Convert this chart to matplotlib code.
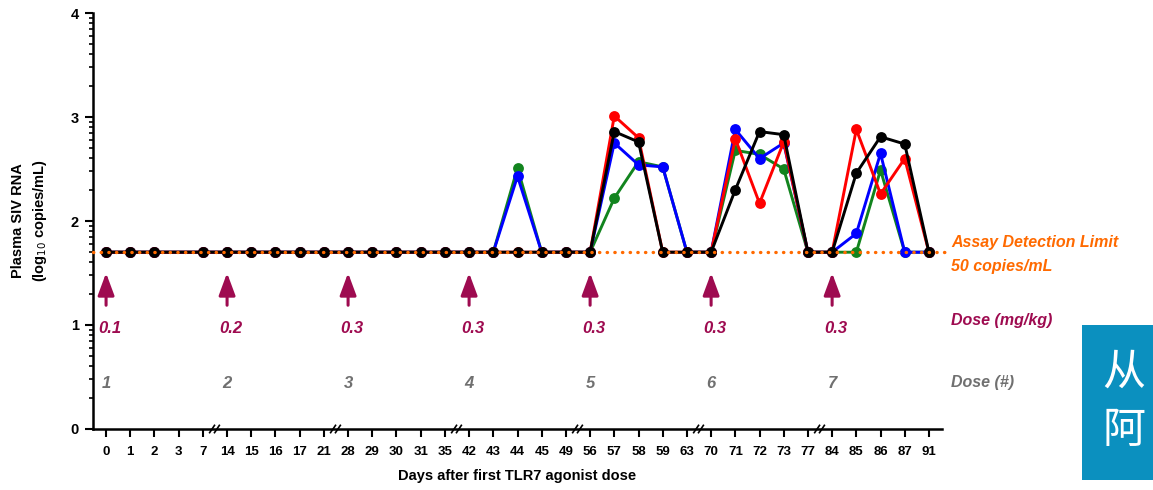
import matplotlib
matplotlib.use("Agg")
import matplotlib.pyplot as plt
from matplotlib.patches import Rectangle
import numpy as np

plt.rcParams['font.family'] = ['Liberation Sans', 'DejaVu Sans']

# ---------------- data ----------------
day_categories = [0, 1, 2, 3, 7, 14, 15, 16, 17, 21, 28, 29, 30, 31, 35, 42, 43, 44, 45, 49,
                  56, 57, 58, 59, 63, 70, 71, 72, 73, 77, 84, 85, 86, 87, 91]
sample_days = [0, 1, 2, 7, 14, 15, 16, 17, 21, 28, 29, 30, 31, 35, 42, 43, 44, 45, 49,
               56, 57, 58, 59, 63, 70, 71, 72, 73, 77, 84, 85, 86, 87, 91]

green_vals = [1.70, 1.70, 1.70, 1.70, 1.70, 1.70, 1.70, 1.70, 1.70, 1.70, 1.70, 1.70, 1.70, 1.70,
              1.70, 1.70, 2.51, 1.70, 1.70, 1.70, 2.22, 2.57, 2.52, 1.70, 1.70, 2.68, 2.64, 2.50,
              1.70, 1.70, 1.70, 2.49, 1.70, 1.70]
blue_vals = [1.70, 1.70, 1.70, 1.70, 1.70, 1.70, 1.70, 1.70, 1.70, 1.70, 1.70, 1.70, 1.70, 1.70,
             1.70, 1.70, 2.43, 1.70, 1.70, 1.70, 2.75, 2.54, 2.52, 1.70, 1.70, 2.88, 2.60, 2.75,
             1.70, 1.70, 1.88, 2.65, 1.70, 1.70]
red_vals = [1.70, 1.70, 1.70, 1.70, 1.70, 1.70, 1.70, 1.70, 1.70, 1.70, 1.70, 1.70, 1.70, 1.70,
            1.70, 1.70, 1.70, 1.70, 1.70, 1.70, 3.01, 2.80, 1.70, 1.70, 1.70, 2.79, 2.17, 2.76,
            1.70, 1.70, 2.88, 2.26, 2.60, 1.70]
black_vals = [1.70, 1.70, 1.70, 1.70, 1.70, 1.70, 1.70, 1.70, 1.70, 1.70, 1.70, 1.70, 1.70, 1.70,
              1.70, 1.70, 1.70, 1.70, 1.70, 1.70, 2.86, 2.76, 1.70, 1.70, 1.70, 2.30, 2.86, 2.83,
              1.70, 1.70, 2.46, 2.81, 2.74, 1.70]

detection_limit = 1.70  # log10(50 copies/mL)

dose_days = [0, 14, 28, 42, 56, 70, 84]
dose_mgkg = ['0.1', '0.2', '0.3', '0.3', '0.3', '0.3', '0.3']
dose_number = ['1', '2', '3', '4', '5', '6', '7']

break_pairs = [(7, 14), (21, 28), (35, 42), (49, 56), (63, 70), (77, 84)]

# ---------------- styling ----------------
C_DOSE = '#9E0B50'
C_NUM = '#707070'
C_LOD = '#FF6A00'

fig = plt.figure(figsize=(11.53, 4.90), dpi=100)
ax = fig.add_axes([93 / 1153, 1 - 429 / 490, (942 - 93) / 1153, (429 - 13) / 490])

xpos = [day_categories.index(d) for d in sample_days]

series = [(green_vals, '#12841E'), (blue_vals, '#0000FF'),
          (red_vals, '#FF0000'), (black_vals, '#000000')]
for vals, col in series:
    ax.plot(xpos, vals, color=col, lw=2.1, marker='o', ms=7.8, mew=0, zorder=3,
            solid_joinstyle='round')

# detection limit dotted line
ax.plot([-0.55, 34.65], [detection_limit, detection_limit], color=C_LOD, lw=2.4,
        linestyle=(0, (0.1, 2.2)), dash_capstyle='round', zorder=5, clip_on=False)

ax.set_xlim(-0.54, 34.54)
ax.set_ylim(0, 4)

# arrows and dose labels
for d, mg, num in zip(dose_days, dose_mgkg, dose_number):
    xi = day_categories.index(d)
    ax.annotate('', xy=(xi, 1.50), xytext=(xi, 1.19),
                arrowprops=dict(arrowstyle='-|>,head_length=1.35,head_width=0.5',
                                lw=2.2, color=C_DOSE, shrinkA=0, shrinkB=0))
    ax.text(xi + 0.15, 0.97, mg, color=C_DOSE, fontsize=12, fontweight='bold',
            fontstyle='italic', ha='center', va='center')
    ax.text(xi, 0.44, num, color=C_NUM, fontsize=12, fontweight='bold',
            fontstyle='italic', ha='center', va='center')

# right-side annotations
for ypix, txt, col in [(243, 'Assay Detection Limit', C_LOD), (266, '50 copies/mL', C_LOD),
                       (320, 'Dose (mg/kg)', C_DOSE), (382, 'Dose (#)', C_NUM)]:
    fig.text(951 / 1153, 1 - ypix / 490, txt, color=col, fontsize=11.5, fontweight='bold',
             fontstyle='italic', ha='left', va='center')

# axes styling
for s in ['top', 'right']:
    ax.spines[s].set_visible(False)
for s in ['left', 'bottom']:
    ax.spines[s].set_linewidth(1.8)

ax.set_xticks(range(len(day_categories)))
ax.set_xticklabels([str(d) for d in day_categories], fontsize=9.5, fontweight='bold')
ax.tick_params(axis='x', length=6, width=1.5, pad=6)

ax.set_yticks([0, 1, 2, 3, 4])
ax.set_yticklabels(['0', '1', '2', '3', '4'], fontsize=10.5, fontweight='bold')
minor = [k + np.log10(m) for k in range(4) for m in range(2, 10)]
ax.set_yticks(minor, minor=True)
ax.tick_params(axis='y', which='major', length=6, width=1.5, pad=4)
ax.tick_params(axis='y', which='minor', length=3, width=1.2)

# axis break marks
for a, b in break_pairs:
    mid = (day_categories.index(a) + day_categories.index(b)) / 2
    for off in (-0.12, 0.08):
        ax.plot([mid + off - 0.1, mid + off + 0.1], [-0.035, 0.035], color='black',
                lw=1.2, clip_on=False, zorder=6)

ax.set_xlabel('Days after first TLR7 agonist dose', fontsize=10.5, fontweight='bold', labelpad=8)
fig.text(18 / 1153, 1 - 221 / 490, 'Plasma SIV RNA', rotation=90, fontsize=10.5,
         fontweight='bold', ha='center', va='center')
fig.text(40 / 1153, 1 - 221 / 490, '(log$_{10}$ copies/mL)', rotation=90, fontsize=10.5,
         fontweight='bold', ha='center', va='center')

# teal overlay box at bottom right
fig.patches.append(Rectangle((1082 / 1153, 1 - 480 / 490), (1153 - 1082) / 1153, (480 - 325) / 490,
                             transform=fig.transFigure, facecolor='#0B90BF', edgecolor='none',
                             zorder=10))
fig.text(1124 / 1153, 1 - 373 / 490, '从', color='white', fontsize=31,
         family=['Noto Sans CJK SC', 'DejaVu Sans'], ha='center', va='center', zorder=11)
fig.text(1124 / 1153, 1 - 431 / 490, '阿', color='white', fontsize=31,
         family=['Noto Sans CJK SC', 'DejaVu Sans'], ha='center', va='center', zorder=11)

fig.savefig('out.png', dpi=100)
